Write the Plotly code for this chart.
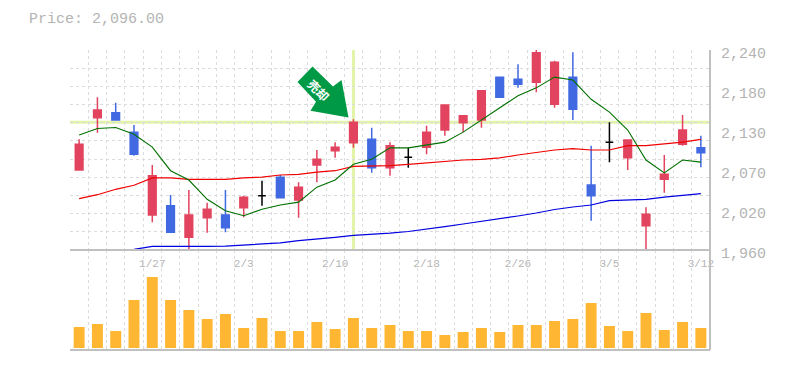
import plotly.graph_objects as go

# Candles: open, high, low, close by trading day (35 sessions)
day_index = list(range(35))
opens = [2072,2145,2152,2125,2009,2022,1978,2005,2009,2019,2036,2062,2030,2079,2099,2110,2115,2075,2090,2104,2128,2138,2142,2202,2199,2195,2164,2202,2051,2111,2089,1994,2059,2108,2103]
highs = [2115,2174,2166,2135,2079,2037,2044,2026,2044,2036,2057,2065,2055,2100,2111,2143,2131,2111,2103,2134,2164,2149,2183,2202,2220,2240,2225,2237,2106,2139,2114,2020,2093,2149,2120]
lows = [2071,2124,2142,2092,1999,1985,1960,1984,1985,2006,2022,2033,2005,2055,2089,2103,2068,2064,2075,2094,2120,2125,2131,2174,2187,2181,2159,2142,2001,2083,2072,1960,2040,2106,2076]
closes = [2108,2156,2142,2094,2064,1985,2009,2017,1991,2034,2036,2033,2048,2087,2104,2139,2075,2106,2090,2125,2163,2148,2183,2174,2192,2236,2223,2157,2036,2111,2114,2010,2066,2128,2096]
ma_short = [2121,2130,2131.5,2122,2104,2071,2058,2031,2015,2008,2017,2023,2027,2048,2058,2080,2087,2103,2103,2107,2111,2125,2142,2159,2176,2187,2202,2198,2171,2153,2128,2086,2068,2086,2083]
ma_mid = [2032,2037.4,2045,2050.6,2061,2061,2059,2059,2059,2061,2062,2065,2066,2069,2071,2077,2077,2078,2080,2082,2085,2086,2087,2089,2093,2097,2100,2102,2100,2100,2106,2106,2108,2111,2115]
ma_long = [None,None,1959,1961,1965,1965,1964,1965,1965.5,1967,1969,1970,1973,1975,1977.8,1980.6,1981.7,1983.5,1985.9,1989,1992.6,1996.4,2000,2003.4,2007.6,2011.8,2016.7,2020.2,2023,2029,2030,2031,2034,2037,2039]
volumes = [21,24,17,48,71,48,38,29,34,20,30,17,17,26,19,30,20,23,17,17,13,16,20,16,23,23,27,29,45,22,17,35,18,26,20]

date_positions = [4,9,14,19,24,29,34]
date_labels = ["1/27","2/3","2/10","2/18","2/26","3/5","3/12"]
price_ticks = [1960,2016,2072,2128,2184,2240]
price_labels = ["1,960","2,020","2,070","2,130","2,180","2,240"]
cursor_day = 15
cursor_price = 2139

GRAY = "#b4b4b4"
FRAME = "#c0c0c0"
GRID = "#dcdcdc"
FONT = "Liberation Mono"
RED = "#E2445F"
BLUE = "#4169E1"
ARROW = "#009A46"

def paper_path(points):
    parts = [f"{(x-70)/640:.5f},{(350-y)/300:.5f}" for x, y in points]
    return "M" + " L".join(parts) + " Z"

arrow_outline = [(312.5,66.5),(297.5,82),(316,101.7),(310.5,110.7),(348.5,117.5),(341.5,80),(333,86.5)]

is_doji = [o == c for o, c in zip(opens, closes)]
def pick(vals, doji):
    return [v if d == doji else None for v, d in zip(vals, is_doji)]

fig = go.Figure()
fig.add_trace(go.Scatter(x=day_index, y=ma_long, mode="lines", line=dict(color="#0000E0", width=1.2), hoverinfo="skip"))
fig.add_trace(go.Scatter(x=day_index, y=ma_mid, mode="lines", line=dict(color="#F00000", width=1.2), hoverinfo="skip"))
fig.add_trace(go.Scatter(x=day_index, y=ma_short, mode="lines", line=dict(color="#007000", width=1.1), hoverinfo="skip"))
fig.add_trace(go.Candlestick(x=day_index, open=pick(opens, False), high=pick(highs, False), low=pick(lows, False), close=pick(closes, False),
    increasing=dict(line=dict(color=RED, width=1.5), fillcolor=RED),
    decreasing=dict(line=dict(color=BLUE, width=1.5), fillcolor=BLUE)))
fig.add_trace(go.Candlestick(x=day_index, open=pick(opens, True), high=pick(highs, True), low=pick(lows, True), close=pick(closes, True),
    increasing=dict(line=dict(color="#000000", width=1.5), fillcolor="#000000"),
    decreasing=dict(line=dict(color="#000000", width=1.5), fillcolor="#000000")))
fig.add_trace(go.Bar(x=day_index, y=volumes, marker=dict(color="#FFB733", line=dict(width=0)), width=0.6, xaxis="x2", yaxis="y2"))

minor_x = dict(showgrid=True, gridcolor=GRID, griddash="3px,3px", gridwidth=1, tick0=-0.5, dtick=1, ticks="")
fig.update_layout(
    width=777, height=362, margin=dict(l=62, r=75, t=42, b=20, autoexpand=False),
    paper_bgcolor="white", plot_bgcolor="white", showlegend=False, boxgap=0.4,
    font=dict(family=FONT, color=GRAY),
    title=dict(text="Price: 2,096.00", font=dict(family=FONT, size=15, color=GRAY), x=21/777, xanchor="left", y=1-10/362, yanchor="middle"),
    xaxis=dict(domain=[0,1], range=[-0.5,34.5], anchor="y", tickmode="array", tickvals=date_positions, ticktext=date_labels,
        showgrid=False, zeroline=False, showline=False, ticks="", ticklabelstandoff=5, tickfont=dict(family=FONT, size=11, color=GRAY),
        rangeslider=dict(visible=False), minor=minor_x),
    xaxis2=dict(domain=[0,1], range=[-0.5,34.5], anchor="y2", showticklabels=False, showgrid=False, zeroline=False, showline=False, ticks="", minor=minor_x, matches="x"),
    yaxis=dict(domain=[1/3,1], range=[1960,2240], side="right", anchor="x", tickmode="array", tickvals=price_ticks, ticktext=price_labels,
        showgrid=False, zeroline=False, showline=False, ticks="", ticklabelstandoff=10, ticklabelshift=3, tickfont=dict(family=FONT, size=15, color=GRAY),
        minor=dict(showgrid=True, gridcolor=GRID, griddash="3px,3px", gridwidth=1, tick0=1960, dtick=280/11, ticks="")),
    yaxis2=dict(domain=[0,1/3], range=[-2,98], anchor="x2", showticklabels=False, showgrid=False, zeroline=False, showline=False, ticks=""),
    shapes=[
        dict(type="line", xref="x", yref="paper", x0=cursor_day, x1=cursor_day, y0=1/3, y1=1, line=dict(color="#E2F4A8", width=3), layer="below"),
        dict(type="line", xref="paper", yref="y", x0=0, x1=1, y0=cursor_price, y1=cursor_price, line=dict(color="#E2F4A8", width=3), layer="below"),
        dict(type="line", xref="paper", yref="paper", x0=1, x1=1, y0=0, y1=1, line=dict(color=FRAME, width=2)),
        dict(type="line", xref="paper", yref="paper", x0=0, x1=1, y0=0, y1=0, line=dict(color=FRAME, width=2)),
        dict(type="line", xref="paper", yref="paper", x0=0, x1=1, y0=1/3, y1=1/3, line=dict(color=FRAME, width=2)),
        dict(type="path", xref="paper", yref="paper", path=paper_path(arrow_outline), fillcolor=ARROW, line=dict(width=0), layer="above"),
    ],
    annotations=[dict(xref="paper", yref="paper", x=(318.5-70)/640, y=(350-89.5)/300, xanchor="center", yanchor="middle", text="<b>売却</b>", textangle=45, showarrow=False,
        font=dict(family="Noto Sans CJK JP", size=12, color="white"))],
)
fig.write_html("out.html")
